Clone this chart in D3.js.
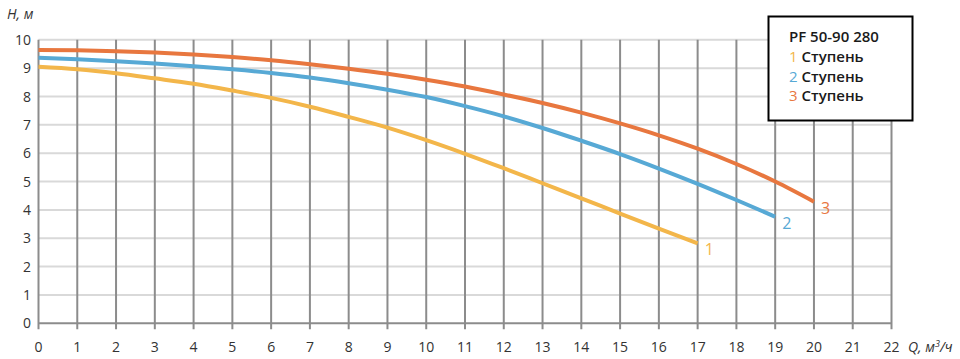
<!DOCTYPE html>
<html>
<head>
<meta charset="utf-8">
<script src="https://cdnjs.cloudflare.com/ajax/libs/d3/7.8.5/d3.min.js"></script>
<style>
  body { margin: 0; background: #fff; }
  svg { display: block; font-family: "Open Sans", "Noto Sans", sans-serif; }
</style>
</head>
<body>
<svg width="960" height="359"></svg>
<script>
// Q, m3/h
var xTicks = d3.range(0, 23);
var yTicks = d3.range(0, 11);

// H, m for each stage, read at Q = 0, 1, 2, ...
var stage1 = [9.05, 8.96, 8.82, 8.64, 8.45, 8.21, 7.95, 7.64, 7.28, 6.9, 6.46, 5.98, 5.47, 4.94, 4.41, 3.87, 3.34, 2.82];
var stage2 = [9.37, 9.31, 9.24, 9.16, 9.07, 8.96, 8.83, 8.67, 8.47, 8.24, 7.98, 7.66, 7.3, 6.89, 6.44, 5.97, 5.46, 4.92, 4.35, 3.76];
var stage3 = [9.64, 9.63, 9.6, 9.55, 9.48, 9.39, 9.28, 9.14, 8.98, 8.8, 8.59, 8.35, 8.07, 7.77, 7.43, 7.05, 6.63, 6.16, 5.62, 5.0, 4.29];

var seriesNames = ["1", "2", "3"];
var seriesColors = ["#f3b64a", "#57a9d5", "#e8773f"];
var legendTitle = "PF 50-90 280";
var legendLabel = "Ступень";

var series = [stage1, stage2, stage3];

function draw() {
  var svg = d3.select("svg");
  var x = d3.scaleLinear().domain([0, 22]).range([38.5, 891.5]),
      y = d3.scaleLinear().domain([0, 10]).range([323.3, 39.8]);

  // horizontal grid
  svg.append("g")
     .selectAll("line")
     .data(yTicks.filter(function(d) { return d > 0; }))
     .enter().append("line")
     .attr("x1", x(0)).attr("x2", x(22))
     .attr("y1", function(d) { return y(d); })
     .attr("y2", function(d) { return y(d); })
     .attr("stroke", "#d9d9d9")
     .attr("stroke-width", 2);

  // vertical grid (runs a little below the axis as ticks)
  svg.append("g")
     .selectAll("line")
     .data(xTicks)
     .enter().append("line")
     .attr("x1", function(d) { return x(d); })
     .attr("x2", function(d) { return x(d); })
     .attr("y1", y(10)).attr("y2", y(0) + 6)
     .attr("stroke", "#8c8c8c")
     .attr("stroke-width", 2);

  // x axis line
  svg.append("line")
     .attr("x1", x(0)).attr("x2", x(22))
     .attr("y1", y(0)).attr("y2", y(0))
     .attr("stroke", "#8c8c8c")
     .attr("stroke-width", 2);

  // tick labels
  svg.append("g")
     .selectAll("text")
     .data(xTicks)
     .enter().append("text")
     .attr("x", function(d) { return x(d); })
     .attr("y", 352)
     .attr("text-anchor", "middle")
     .attr("font-size", 14)
     .attr("fill", "#333")
     .text(function(d) { return d; });

  svg.append("g")
     .selectAll("text")
     .data(yTicks)
     .enter().append("text")
     .attr("x", 31)
     .attr("y", function(d) { return y(d) + 5; })
     .attr("text-anchor", "end")
     .attr("font-size", 14)
     .attr("fill", "#333")
     .text(function(d) { return d; });

  // axis titles
  svg.append("text")
     .attr("x", 7).attr("y", 19)
     .attr("font-size", 14).attr("font-style", "italic")
     .attr("fill", "#333")
     .text("H, м");
  svg.append("text")
     .attr("x", 908).attr("y", 352)
     .attr("font-size", 14).attr("font-style", "italic")
     .attr("fill", "#333")
     .html("Q, м<tspan font-size='9' dy='-5'>3</tspan><tspan dy='5'>/ч</tspan>");

  // curves
  var line = d3.line()
    .x(function(d, i) { return x(i); })
    .y(function(d) { return y(d); })
    .curve(d3.curveMonotoneX);

  series.forEach(function(s, k) {
    svg.append("path")
       .attr("d", line(s))
       .attr("fill", "none")
       .attr("stroke", seriesColors[k])
       .attr("stroke-width", 4);
    var last = s.length - 1;
    svg.append("text")
       .attr("x", x(last) + 7)
       .attr("y", y(s[last]) + 12)
       .attr("font-size", 16)
       .attr("fill", seriesColors[k])
       .text(seriesNames[k]);
  });

  // legend
  var lg = svg.append("g");
  lg.append("rect")
    .attr("x", 768.5).attr("y", 16.5)
    .attr("width", 144).attr("height", 104)
    .attr("fill", "#fff")
    .attr("stroke", "#000")
    .attr("stroke-width", 2);
  lg.append("text")
    .attr("x", 789).attr("y", 42)
    .attr("font-size", 15).attr("font-weight", 600)
    .attr("fill", "#1a1a1a")
    .text(legendTitle);
  seriesNames.forEach(function(n, k) {
    var t = lg.append("text")
      .attr("x", 789).attr("y", 62 + k * 19.5)
      .attr("font-size", 15).attr("font-weight", 600);
    t.append("tspan").attr("fill", seriesColors[k]).attr("font-weight", 400).text(n + " ");
    t.append("tspan").attr("fill", "#1a1a1a").text(legendLabel);
  });
}

draw();
</script>
</body>
</html>
